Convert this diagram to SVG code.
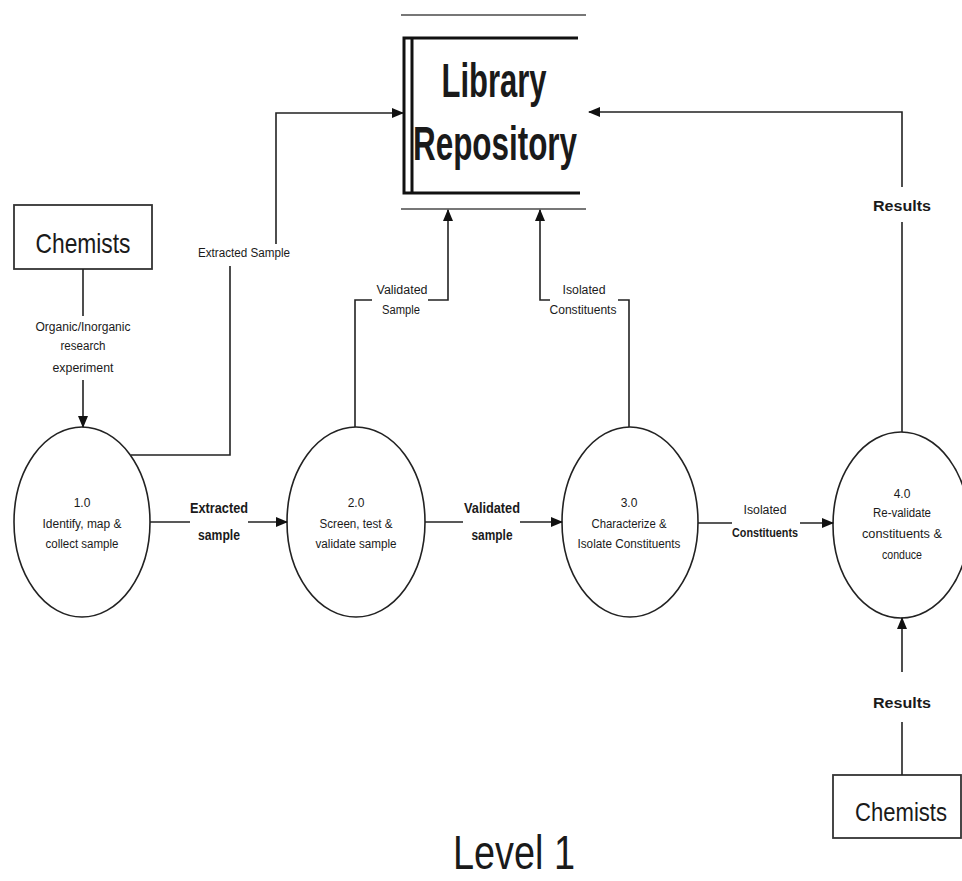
<svg xmlns="http://www.w3.org/2000/svg" width="962" height="881" viewBox="0 0 962 881">
<defs>
<marker id="ah" markerWidth="12" markerHeight="10" refX="11" refY="5" orient="auto" markerUnits="userSpaceOnUse">
<path d="M0,0 L12,5 L0,10 Z" fill="#111"/>
</marker>
</defs>
<style>
.bg{fill:#fff}
.ln{fill:none;stroke:#222;stroke-width:1.6}
.proc{fill:#fff;stroke:#222;stroke-width:1.6}
.ent{fill:#fff;stroke:#333;stroke-width:1.8}
.store{fill:none;stroke:#111;stroke-width:3}
.gray{fill:none;stroke:#777;stroke-width:2.2}
text{font-family:"Liberation Sans",Arial,sans-serif;fill:#1a1a1a;text-anchor:middle}
.s{font-size:12px}
.m{font-size:14px;font-weight:bold}
.big{font-size:48px;font-weight:bold}
.ch{font-size:28px}
</style>
<rect class="bg" x="0" y="0" width="962" height="881"/>

<g id="library">
<line class="gray" x1="401" y1="15" x2="586" y2="15"/>
<line class="gray" x1="401" y1="209" x2="586" y2="209"/>
<path class="store" d="M578,38 H404 V193 H580"/>
<line class="store" x1="412" y1="38" x2="412" y2="193"/>
<text class="big" x="494" y="97" textLength="105" lengthAdjust="spacingAndGlyphs">Library</text>
<text class="big" x="495" y="160" textLength="164" lengthAdjust="spacingAndGlyphs">Repository</text>
</g>

<g id="chemists1">
<rect class="ent" x="14" y="205" width="138" height="64"/>
<text class="ch" x="83" y="253" textLength="95" lengthAdjust="spacingAndGlyphs">Chemists</text>
</g>

<g id="chemists2">
<rect class="ent" x="833" y="775" width="128" height="63"/>
<text x="901" y="821" font-size="25" textLength="92" lengthAdjust="spacingAndGlyphs">Chemists</text>
</g>

<g id="p1">
<ellipse class="proc" cx="82" cy="522" rx="68" ry="95"/>
<text class="s" x="82" y="507">1.0</text>
<text class="s" x="82" y="528" textLength="79" lengthAdjust="spacingAndGlyphs">Identify, map &amp;</text>
<text class="s" x="82" y="548" textLength="73" lengthAdjust="spacingAndGlyphs">collect sample</text>
</g>

<g id="p2">
<ellipse class="proc" cx="356" cy="522" rx="69" ry="95"/>
<text class="s" x="356" y="507">2.0</text>
<text class="s" x="356" y="528" textLength="73" lengthAdjust="spacingAndGlyphs">Screen, test &amp;</text>
<text class="s" x="356" y="548" textLength="81" lengthAdjust="spacingAndGlyphs">validate sample</text>
</g>

<g id="p3">
<ellipse class="proc" cx="630" cy="522" rx="68" ry="95"/>
<text class="s" x="629" y="507">3.0</text>
<text class="s" x="629" y="528" textLength="75" lengthAdjust="spacingAndGlyphs">Characterize &amp;</text>
<text class="s" x="629" y="548" textLength="103" lengthAdjust="spacingAndGlyphs">Isolate Constituents</text>
</g>

<g id="p4">
<ellipse class="proc" cx="901" cy="525" rx="68" ry="93"/>
<text class="s" x="902" y="498">4.0</text>
<text class="s" x="902" y="517" textLength="58" lengthAdjust="spacingAndGlyphs">Re-validate</text>
<text class="s" x="902" y="538" textLength="80" lengthAdjust="spacingAndGlyphs">constituents &amp;</text>
<text class="s" x="902" y="559" textLength="40" lengthAdjust="spacingAndGlyphs">conduce</text>
</g>

<g id="connectors">
<!-- Chemists -> 1.0 -->
<line class="ln" x1="83" y1="269" x2="83" y2="316"/>
<line class="ln" x1="83" y1="380" x2="83" y2="427" marker-end="url(#ah)"/>
<text class="s" x="83" y="331" textLength="95" lengthAdjust="spacingAndGlyphs">Organic/Inorganic</text>
<text class="s" x="83" y="350" textLength="45" lengthAdjust="spacingAndGlyphs">research</text>
<text class="s" x="83" y="372" textLength="61" lengthAdjust="spacingAndGlyphs">experiment</text>

<!-- 1.0 -> Library (Extracted Sample) -->
<path class="ln" d="M131,455 H230 V266"/>
<path class="ln" d="M276,244 V113 H403" marker-end="url(#ah)"/>
<text class="s" x="244" y="257" textLength="92" lengthAdjust="spacingAndGlyphs">Extracted Sample</text>

<!-- 1.0 -> 2.0 -->
<line class="ln" x1="150" y1="522" x2="190" y2="522"/>
<line class="ln" x1="248" y1="522" x2="287" y2="522" marker-end="url(#ah)"/>
<text class="m" x="219" y="513" textLength="58" lengthAdjust="spacingAndGlyphs">Extracted</text>
<text class="m" x="219" y="540" textLength="42" lengthAdjust="spacingAndGlyphs">sample</text>

<!-- 2.0 -> 3.0 -->
<line class="ln" x1="425" y1="522" x2="463" y2="522"/>
<line class="ln" x1="520" y1="522" x2="562" y2="522" marker-end="url(#ah)"/>
<text class="m" x="492" y="513" textLength="56" lengthAdjust="spacingAndGlyphs">Validated</text>
<text class="m" x="492" y="540" textLength="41" lengthAdjust="spacingAndGlyphs">sample</text>

<!-- 3.0 -> 4.0 -->
<line class="ln" x1="698" y1="523" x2="732" y2="523"/>
<line class="ln" x1="800" y1="523" x2="833" y2="523" marker-end="url(#ah)"/>
<text class="s" x="765" y="514" textLength="43" lengthAdjust="spacingAndGlyphs">Isolated</text>
<text class="s" x="765" y="537" textLength="66" lengthAdjust="spacingAndGlyphs" font-weight="bold">Constituents</text>

<!-- 2.0 -> Library (Validated Sample) -->
<path class="ln" d="M355,427 V300 H372"/>
<path class="ln" d="M428,300 H448 V210" marker-end="url(#ah)"/>
<text class="s" x="402" y="294" textLength="51" lengthAdjust="spacingAndGlyphs">Validated</text>
<text class="s" x="401" y="314" textLength="38" lengthAdjust="spacingAndGlyphs">Sample</text>

<!-- 3.0 -> Library (Isolated Constituents) -->
<path class="ln" d="M629,427 V300 H618"/>
<path class="ln" d="M550,300 H540 V210" marker-end="url(#ah)"/>
<text class="s" x="584" y="294" textLength="43" lengthAdjust="spacingAndGlyphs">Isolated</text>
<text class="s" x="583" y="314" textLength="67" lengthAdjust="spacingAndGlyphs">Constituents</text>

<!-- 4.0 -> Library (Results) -->
<line class="ln" x1="902" y1="432" x2="902" y2="222"/>
<path class="ln" d="M902,187 V112 H589" marker-end="url(#ah)"/>
<text class="m" x="902" y="211" font-size="16" textLength="58" lengthAdjust="spacingAndGlyphs">Results</text>

<!-- Chemists -> 4.0 (Results) -->
<line class="ln" x1="902" y1="775" x2="902" y2="722"/>
<line class="ln" x1="902" y1="672" x2="902" y2="618" marker-end="url(#ah)"/>
<text class="m" x="902" y="708" textLength="58" lengthAdjust="spacingAndGlyphs">Results</text>
</g>

<text x="514" y="869" font-size="48" textLength="122" lengthAdjust="spacingAndGlyphs">Level 1</text>
</svg>
